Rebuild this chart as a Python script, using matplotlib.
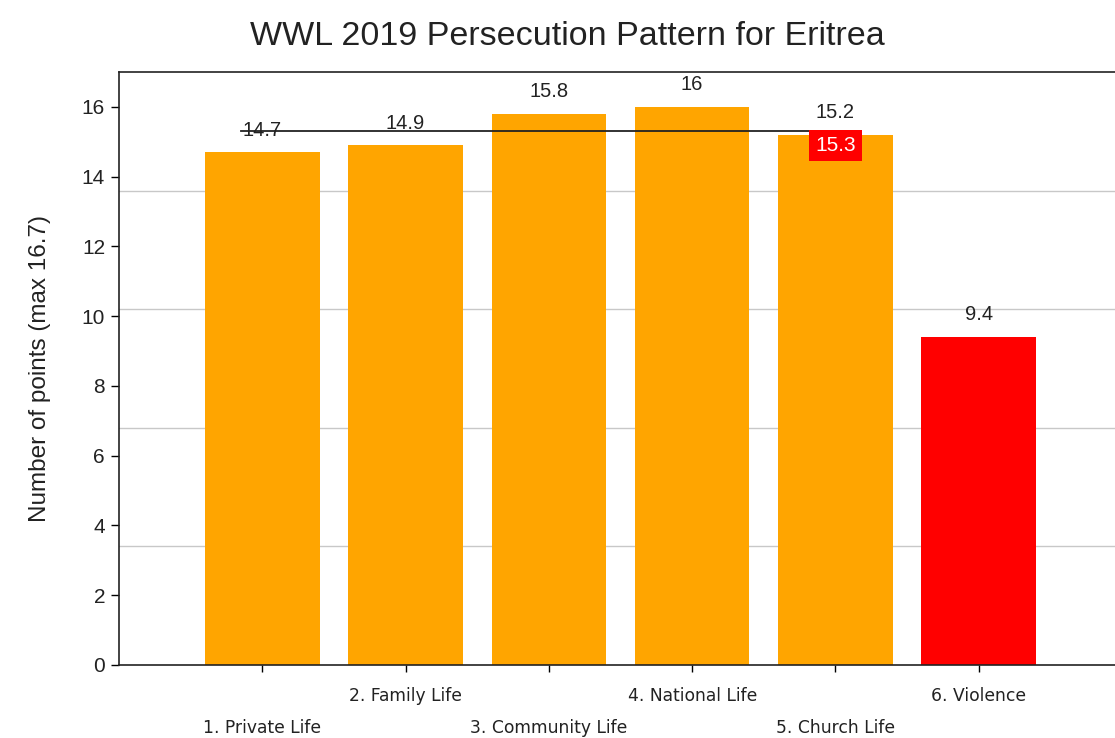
import matplotlib
matplotlib.use("Agg")
import matplotlib.pyplot as plt
import numpy as np

categories = ["1. Private Life", "2. Family Life", "3. Community Life",
              "4. National Life", "5. Church Life", "6. Violence"]
values = [14.7, 14.9, 15.8, 16.0, 15.2, 9.4]
value_labels = ["14.7", "14.9", "15.8", "16", "15.2", "9.4"]
average = 15.3
average_label = "15.3"
yticks = [0, 2, 4, 6, 8, 10, 12, 14, 16]
grid_levels = [3.4, 6.8, 10.2, 13.6]

ORANGE = "#FFA500"
RED = "#FF0000"
colors = [ORANGE] * 5 + [RED]

plt.rcParams["font.family"] = ["Liberation Sans", "DejaVu Sans"]

fig = plt.figure(figsize=(11.15, 7.38), dpi=100)
ax = fig.add_axes([119 / 1115, 1 - 665 / 738, 1003 / 1115, (665 - 72) / 738])

x = np.arange(len(categories))
ax.bar(x, values, width=0.8, color=colors, zorder=2)

ax.set_xlim(-1, 6)
ax.set_ylim(0, 17)

# grid lines
ax.set_yticks(grid_levels, minor=True)
ax.yaxis.grid(True, which="minor", color="#c8c8c8", linewidth=1, zorder=0)
ax.tick_params(axis="y", which="minor", length=0)
ax.set_axisbelow(True)

ax.set_yticks(yticks)
ax.set_yticklabels([str(t) for t in yticks], fontsize=15, color="#222222")
ax.tick_params(axis="y", which="major", direction="out", length=6, width=1, pad=4)

ax.set_xticks(x)
ax.set_xticklabels(categories, fontsize=12.3, family="DejaVu Sans", color="#222222")
ax.tick_params(axis="x", which="major", direction="out", length=5, width=1)
for i, tick in enumerate(ax.xaxis.get_major_ticks()):
    tick.set_pad(11 if i % 2 == 1 else 34)

for s in ["left", "bottom", "top"]:
    ax.spines[s].set_linewidth(1.2)
    ax.spines[s].set_color("#222222")
ax.spines["right"].set_visible(False)

# value labels
for xi, v, lab in zip(x, values, value_labels):
    ax.annotate(lab, (xi, v), xytext=(0, 12), textcoords="offset points",
                ha="center", va="baseline", fontsize=14.5, color="#222222", zorder=4)

# average line
ax.plot([-0.15, 4.0], [average, average], color="#222222", linewidth=1.3, zorder=3)
ax.annotate(average_label, (4.0, average), xytext=(0, -3.5), textcoords="offset points",
            ha="center", va="top", fontsize=15, color="white", zorder=5,
            bbox=dict(boxstyle="square,pad=0.3", facecolor=RED, edgecolor="none"))

ax.set_ylabel("Number of points (max 16.7)", fontsize=17.5, color="#222222", labelpad=22)
fig.suptitle("WWL 2019 Persecution Pattern for Eritrea", fontsize=24.5, color="#222222",
             x=567 / 1115, y=0.972, va="top")

fig.savefig("out.png", dpi=100)
